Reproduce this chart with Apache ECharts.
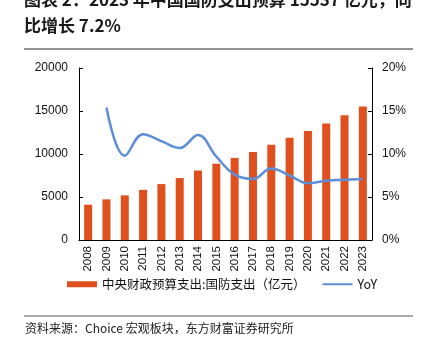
<!DOCTYPE html>
<html><head><meta charset="utf-8">
<script src="https://cdn.jsdelivr.net/npm/echarts@6/dist/echarts.min.js"></script>
<style>html,body{margin:0;padding:0;background:#fff}#c{width:424px;height:345px}</style>
</head><body><div id="c"></div>
<script>
const years = ['2008','2009','2010','2011','2012','2013','2014','2015','2016','2017','2018','2019','2020','2021','2022','2023'];
const spending = [4099, 4729, 5191, 5830, 6503, 7202, 8082, 8869, 9544, 10226, 11070, 11899, 12680, 13553, 14505, 15537];
const yoy = [null, 15.4, 9.8, 12.3, 11.5, 10.7, 12.2, 9.7, 7.6, 7.1, 8.3, 7.5, 6.6, 6.9, 7.0, 7.1];
const leftTicks = [0, 5000, 10000, 15000, 20000];
const rightTicks = [0, 5, 10, 15, 20];

const chart = echarts.init(document.getElementById('c'));
const F = '"Noto Sans CJK SC", sans-serif';
chart.setOption({
  animation: false,
  grid: {left: 79, right: 52, top: 68, bottom: 105},
  graphic: [
    {type: 'text', left: 24, top: -9, style: {text: '图表 2：2023 年中国国防支出预算 15537 亿元，同', font: 'bold 17px ' + F, fill: '#1a1a1a'}},
    {type: 'text', left: 24, top: 17, style: {text: '比增长 7.2%', font: 'bold 17px ' + F, fill: '#1a1a1a'}},
    {type: 'line', shape: {x1: 24, y1: 49, x2: 413, y2: 49}, style: {stroke: '#222', lineWidth: 1}},
    {type: 'line', shape: {x1: 24, y1: 316, x2: 413, y2: 316}, style: {stroke: '#555', lineWidth: 1}},
    {type: 'text', left: 25, top: 322, style: {text: '资料来源：Choice 宏观板块，东方财富证券研究所', font: '12px ' + F, fill: '#222'}}
  ],
  legend: {
    left: 67, top: 278, padding: 0, itemWidth: 30, itemHeight: 6, itemGap: 17,
    textStyle: {fontFamily: F, fontSize: 12.5, color: '#111'},
    data: [{name: '中央财政预算支出:国防支出（亿元）', icon: 'rect'},
           {name: 'YoY', icon: 'path://M0,0H15V1H0Z'}]
  },
  xAxis: {
    type: 'category', data: years,
    axisLine: {lineStyle: {color: '#000', width: 1}},
    axisTick: {inside: true, length: 4, lineStyle: {color: '#000'}},
    axisLabel: {rotate: 90, fontSize: 11.5, color: '#111', fontFamily: 'Liberation Sans, Arial', margin: 6}
  },
  yAxis: [
    {type: 'value', min: 0, max: 20000, interval: 5000, splitLine: {show: false},
     axisLine: {show: true, lineStyle: {color: '#000'}},
     axisTick: {show: true, inside: true, length: 4, lineStyle: {color: '#000'}},
     axisLabel: {fontSize: 12, color: '#111', fontFamily: 'Liberation Sans, Arial', margin: 11,
                 formatter: v => String(v)}},
    {type: 'value', min: 0, max: 20, interval: 5, splitLine: {show: false},
     axisLine: {show: true, lineStyle: {color: '#000'}},
     axisTick: {show: true, inside: true, length: 4, lineStyle: {color: '#000'}},
     axisLabel: {fontSize: 12, color: '#111', fontFamily: 'Liberation Sans, Arial', margin: 10, formatter: '{value}%'}}
  ],
  series: [
    {name: '中央财政预算支出:国防支出（亿元）', type: 'bar', data: spending, barWidth: 8,
     itemStyle: {color: '#E0501E'}},
    {name: 'YoY', type: 'line', yAxisIndex: 1, data: yoy, smooth: 0.4, symbol: 'none', showSymbol: false,
     lineStyle: {color: '#5B8FD8', width: 2.5}, itemStyle: {color: '#5B8FD8'}}
  ]
});
</script></body></html>
